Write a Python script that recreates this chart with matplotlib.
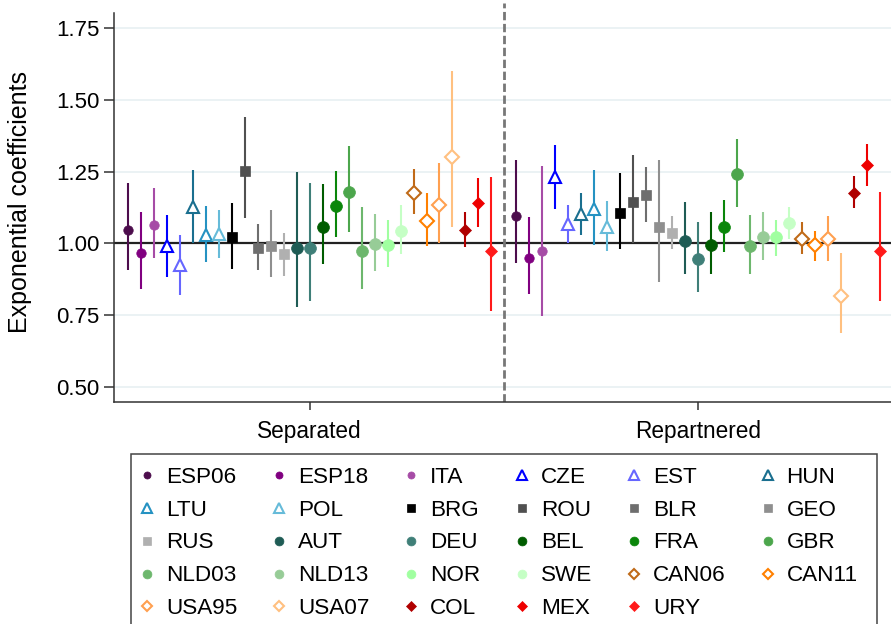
import numpy as np
import matplotlib.pyplot as plt
from matplotlib.lines import Line2D
from matplotlib.patches import Rectangle

plt.rcParams['font.family'] = ['Liberation Sans', 'DejaVu Sans']

countries = ['ESP06', 'ESP18', 'ITA', 'CZE', 'EST', 'HUN', 'LTU', 'POL', 'BRG', 'ROU',
             'BLR', 'GEO', 'RUS', 'AUT', 'DEU', 'BEL', 'FRA', 'GBR', 'NLD03', 'NLD13',
             'NOR', 'SWE', 'CAN06', 'CAN11', 'USA95', 'USA07', 'COL', 'MEX', 'URY']
groups = ['Separated', 'Repartnered']

# separated
sep_coef = [1.047, 0.965, 1.065, 0.990, 0.924, 1.127, 1.030, 1.034, 1.022, 1.252,
            0.985, 0.991, 0.962, 0.985, 0.985, 1.058, 1.131, 1.179, 0.975, 0.997,
            0.995, 1.045, 1.176, 1.079, 1.133, 1.301, 1.047, 1.140, 0.972]
sep_low = [0.906, 0.843, 0.949, 0.883, 0.822, 1.000, 0.934, 0.951, 0.912, 1.087,
           0.909, 0.883, 0.888, 0.779, 0.801, 0.927, 1.022, 1.039, 0.843, 0.903,
           0.918, 0.962, 1.102, 0.991, 1.000, 1.057, 0.987, 1.057, 0.766]
sep_high = [1.209, 1.108, 1.194, 1.098, 1.031, 1.257, 1.132, 1.116, 1.142, 1.441,
            1.067, 1.115, 1.038, 1.249, 1.212, 1.206, 1.252, 1.338, 1.126, 1.102,
            1.080, 1.134, 1.258, 1.175, 1.280, 1.602, 1.110, 1.229, 1.233]

# repartnered
rep_coef = [1.097, 0.950, 0.973, 1.230, 1.067, 1.103, 1.120, 1.056, 1.106, 1.145,
            1.169, 1.056, 1.036, 1.010, 0.946, 0.994, 1.057, 1.242, 0.991, 1.021,
            1.021, 1.071, 1.017, 0.993, 1.017, 0.816, 1.177, 1.272, 0.973]
rep_low = [0.931, 0.825, 0.747, 1.119, 1.000, 1.030, 0.995, 0.972, 0.981, 1.000,
           1.076, 0.865, 0.979, 0.892, 0.831, 0.892, 0.971, 1.128, 0.894, 0.943,
           0.957, 1.015, 0.964, 0.940, 0.940, 0.688, 1.123, 1.199, 0.801]
rep_high = [1.292, 1.091, 1.269, 1.344, 1.135, 1.176, 1.256, 1.146, 1.245, 1.309,
            1.267, 1.291, 1.096, 1.144, 1.076, 1.110, 1.152, 1.365, 1.100, 1.108,
            1.083, 1.128, 1.074, 1.045, 1.097, 0.968, 1.234, 1.345, 1.179]

yticks = [0.50, 0.75, 1.00, 1.25, 1.50, 1.75]

colors = ['#4d0d4d', '#800080', '#a64ca6', '#0000ff', '#6666ff', '#1a6f8f',
          '#2592c2', '#66bbd9', '#000000', '#505050', '#6e6e6e', '#8f8f8f',
          '#b0b0b0', '#1f5c55', '#3f7f78', '#005c00', '#0a860a', '#4ca64c',
          '#6db76d', '#97cc97', '#a0ffa0', '#c5ffc5', '#c06a18', '#ff8000',
          '#ffa050', '#ffc080', '#b00000', '#ee0000', '#ff1a1a']
# marker, size, filled
marks = ([('o', 6.8, True)] * 3 + [('^', 9, False)] * 5 + [('s', 7, True)] * 5
         + [('o', 8.5, True)] * 9 + [('D', 7.3, False)] * 4 + [('D', 6.5, True)] * 3)

fig = plt.figure(figsize=(8.91, 6.24), dpi=100)
ax = fig.add_axes([114 / 891, 1 - 402 / 624, 777 / 891, 399 / 624])

n = len(countries)
step = 13 / 389
offsets = (np.arange(n) - (n - 1) / 2) * step

series = [(sep_coef, sep_low, sep_high), (rep_coef, rep_low, rep_high)]
for g, (coef, low, high) in enumerate(series):
    coef = np.array(coef)
    err = np.array([coef - np.array(low), np.array(high) - coef])
    for i in range(n):
        m, ms, filled = marks[i]
        x = g + 1 + offsets[i]
        ax.errorbar(x, coef[i], yerr=err[:, i:i + 1], fmt='none', ecolor=colors[i],
                    elinewidth=1.5, capsize=0, zorder=3)
        ax.plot(x, coef[i], marker=m, ms=ms, linestyle='none',
                mfc=colors[i] if filled else 'white', mec=colors[i],
                mew=1.5 if not filled else 0.5, zorder=4)

ax.axhline(1.0, color='#222222', lw=1.6, zorder=2)
ax.axvline(1.5, color='#777777', lw=2.0, ls=(0, (3, 1.3)), zorder=2)

ax.set_xlim(0.4974, 2.4949)
ax.set_ylim(0.448, 1.837)
ax.set_yticks(yticks)
ax.set_yticklabels([f'{v:.2f}' for v in yticks])
ax.set_xticks([1, 2])
ax.set_xticklabels(groups)
for v in yticks:
    ax.axhline(v, color='#e8f0f2', lw=1.2, zorder=0)

ax.spines['top'].set_visible(False)
ax.spines['right'].set_visible(False)
ax.spines['left'].set_bounds(0.448, 1.802)
for s in ['left', 'bottom']:
    ax.spines[s].set_color('#333333')
    ax.spines[s].set_linewidth(1.1)
ax.tick_params(axis='y', length=7, width=1.1, color='#333333', labelsize=16, pad=3.5)
ax.tick_params(axis='x', length=6, width=1.1, color='#333333', labelsize=16.3, pad=7)

fig.text(20 / 891, 1 - 202 / 624, 'Exponential coefficients', fontsize=18,
         rotation=90, ha='center', va='center')

handles = []
for i in range(n):
    m, ms, filled = marks[i]
    handles.append(Line2D([], [], linestyle='none', marker=m, ms=ms,
                          mfc=colors[i] if filled else 'white', mec=colors[i],
                          mew=1.5 if not filled else 0.5))

# matplotlib fills legend column by column, reorder so it reads by rows
ncol = 6
order = []
for c in range(ncol):
    for r in range(5):
        k = r * ncol + c
        if k < n:
            order.append(k)

fig.legend([handles[k] for k in order], [countries[k] for k in order],
           ncol=ncol, loc='upper left', bbox_to_anchor=(135.75 / 891, 1 - 466.6 / 624),
           bbox_transform=fig.transFigure, borderaxespad=0, fontsize=16.2,
           markerscale=0.75, handlelength=1.0, handletextpad=0.344,
           columnspacing=1.355, labelspacing=0.53, borderpad=0, frameon=False)

# legend frame runs past the bottom edge in the original
fig.patches.append(Rectangle((131 / 891, -0.05), (877 - 131) / 891, 0.05 + 1 - 454 / 624,
                             transform=fig.transFigure, fill=False,
                             edgecolor='#444444', lw=1.1))

plt.savefig('out.png', dpi=100)
plt.close(fig)
